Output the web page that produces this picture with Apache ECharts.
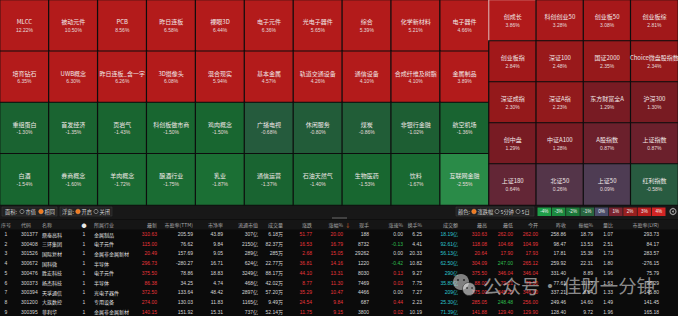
<!DOCTYPE html>
<html><head><meta charset="utf-8">
<script src="https://cdn.jsdelivr.net/npm/echarts/dist/echarts.min.js"></script>
<style>html,body{margin:0;padding:0;background:#0b0b0b;}#c{width:678px;height:316px;}</style>
</head><body><div id="c"></div><script>
// ---- tile data ----
const leftNames = ['MLCC','被动元件','PCB','昨日连板','裸眼3D','电子元件','光电子器件','综合','化学新材料','电子器件',
 '培育钻石','UWB概念','昨日连板_含一字','3D摄像头','混合现实','基本金属','轨道交通设备','通信设备','合成纤维及树脂','金属制品',
 '重组蛋白','首发经济','页岩气','科创板做市商','鸡肉概念','广播电视','休闲服务','煤炭','非银行金融','航空机场',
 '白酒','券商概念','羊肉概念','酿酒行业','乳业','通信运营','石油天然气','生物医药','饮料','互联网金融'];
const leftValues = [12.22,10.50,8.56,6.58,6.44,6.36,5.65,5.39,5.21,4.66,
 6.35,6.30,6.26,6.08,5.94,4.57,4.26,4.10,4.10,3.89,
 -1.30,-1.35,-1.43,-1.50,-1.50,-0.68,-0.80,-0.86,-1.02,-1.36,
 -1.54,-1.60,-1.72,-1.75,-1.87,-1.37,-1.40,-1.53,-1.67,-2.55];
const rightNames = ['创成长','科创创业50','创业板50','创业板综','创业板指','深证100','国证2000','Choice微盘股指数',
 '深证成指','深证A指','东方财富全A','沪深300','创中盘','中证A100','A股指数','上证指数','上证180','北证50','上证50','红利指数'];
const rightValues = [3.86,3.28,3.08,2.81,2.84,2.48,2.35,2.34,2.30,2.23,1.29,1.30,1.29,1.28,0.87,0.87,0.64,0.26,0.09,-0.58];
const legendTicks = ['-4%','-3%','-2%','-1%','0%','1%','2%','3%','4%'];

// ---- table data ----
const headers = ['序号','代码','名称','●','所属行业','最新','市盈率(TTM)','市净率','流通市值','成交量','涨跌','涨幅%','现手','涨速%','换手%','成交额','最高','最低','今开','昨收','振幅%','量比','市盈率(LYR)'];
const seqNo = [1,2,3,4,5,6,7,8,9];
const codes = ['301377','300408','301526','300672','300476','300373','300394','301200','300395'];
const stockNames = ['鼎泰高科','三环集团','国际复材','国科微','胜宏科技','扬杰科技','天孚通信','大族数控','菲利华'];
const flags = [1,1,1,1,1,1,1,1,1];
const industries = ['金属制品','电子元件','金属非金属新材','半导体','电子元件','半导体','光电子器件','专用设备','金属非金属新材'];
const latest = [310.63,115.00,20.49,296.73,375.50,86.38,372.50,274.00,140.15];
const peTTM = ['205.59','76.62','157.69','-280.27','78.86','34.25','133.64','130.03','151.92'];
const pb = ['43.89','9.84','9.05','16.71','18.83','4.74','48.42','11.83','15.31'];
const floatCap = ['307亿','2150亿','289亿','624亿','3249亿','468亿','2897亿','1165亿','737亿'];
const volume = ['6.18万','82.37万','285万','22.77万','88.17万','42.02万','57.20万','9.49万','52.14万'];
const change = [51.77,16.53,2.68,36.81,44.10,8.77,35.29,24.54,11.75];
const pctChange = [20.00,16.79,15.05,14.16,13.31,11.30,10.47,9.84,9.15];
const lastVol = ['188','8732','29262','1220','8030','7469','4466','687','3800'];
const speed = [0.00,-0.13,0.00,-0.42,0.13,0.03,0.00,0.44,0.02];
const turnover = ['6.25','4.41','20.33','10.82','9.27','7.75','7.27','2.23','10.19'];
const amount = ['18.19亿','92.61亿','56.13亿','62.50亿','290亿','35.80亿','209亿','25.30亿','71.39亿'];
const high = [310.63,118.08,20.64,304.09,375.50,88.00,375.00,285.05,141.88];
const low = [262.00,104.68,17.90,247.00,346.04,79.21,345.20,248.48,129.40];
const openP = [262.00,104.99,17.93,265.12,346.04,79.50,346.00,256.00,129.90];
const prevClose = [258.86,98.47,17.81,259.92,331.40,77.61,337.21,249.46,128.40];
const amplitude = [18.79,13.53,15.38,22.31,8.89,11.33,8.84,14.60,9.72];
const volRatio = [1.07,2.51,1.73,1.80,1.96,1.63,1.33,1.49,1.96];
const peLYR = ['293.73','84.17','283.57','-276.15','75.79','98.29','145.80','141.45','165.18'];

const CJK = '"Noto Sans CJK SC","Noto Sans",sans-serif';
const NUM = '"Liberation Sans","Noto Sans CJK SC",sans-serif';
const RED = '#e8353a', GREEN = '#2fbf4f', CYAN = '#2cc6cf', WHITE = '#d6d6d6', GRAY = '#a8a8a8';

const chart = echarts.init(document.getElementById('c'), null, {renderer:'svg', width:678, height:316});

const leftData = leftValues.map((v,i)=>({name:leftNames[i], value:[i%10, Math.floor(i/10), v]}));
const rightData = rightValues.map((v,i)=>{
  const d = {name:rightNames[i], value:[i%4, Math.floor(i/4), v]};
  if (i===0) d.itemStyle = {borderColor:'#e0a2a2', borderWidth:1.2};
  return d;
});
const idx = n => Array.from({length:n},(_,i)=>i);

const labelCfg = {
  show:true,
  formatter: p => '{n|' + p.data.name + '}\n{v|' + p.data.value[2].toFixed(2) + '%}',
  rich:{
    n:{fontSize:6, fontFamily:CJK, color:'#f1e8e8', lineHeight:8.5},
    v:{fontSize:5, fontFamily:NUM, color:'#e6dcdc', lineHeight:7.5}
  }
};

function T(x,y,text,fill,size,align,font){
  return {type:'text', silent:true, style:{x:x,y:y,text:String(text),fill:fill,fontSize:size,fontFamily:font||NUM,
    textAlign:align||'left',align:align||'left',textVerticalAlign:'middle',verticalAlign:'middle'}};
}
function R(x,y,w,h,fill,stroke){
  return {type:'rect', silent:true, shape:{x:x,y:y,width:w,height:h}, style:{fill:fill, stroke:stroke||null, lineWidth:0.6}};
}
function radio(x,y,on){
  return on ? {type:'circle', silent:true, shape:{cx:x,cy:y,r:2.3}, style:{fill:'#ef7a1f', stroke:'#f4a060', lineWidth:0.5}}
            : {type:'circle', silent:true, shape:{cx:x,cy:y,r:2.1}, style:{fill:'none', stroke:'#bdbdbd', lineWidth:0.6}};
}

const g = [];
// control bar
g.push(R(0,205,678,14,'#181818'));
g.push(R(2,207,55,9,'#222222','#3a3a3a'));
g.push(T(5,211.5,'面积:',WHITE,5.2,'left',CJK));
g.push(radio(22,211.5,false)); g.push(T(25.5,211.5,'市值',WHITE,5.2,'left',CJK));
g.push(radio(41,211.5,true)); g.push(T(44.5,211.5,'相同',WHITE,5.2,'left',CJK));
g.push(R(60,207,52,9,'#222222','#3a3a3a'));
g.push(T(62,211.5,'浮窗:',WHITE,5.2,'left',CJK));
g.push(radio(78,211.5,true)); g.push(T(81.5,211.5,'开启',WHITE,5.2,'left',CJK));
g.push(radio(96,211.5,false)); g.push(T(99.5,211.5,'关闭',WHITE,5.2,'left',CJK));
g.push(R(456,207,78,9,'#222222','#3a3a3a'));
g.push(T(458,211.5,'颜色:',WHITE,5.2,'left',CJK));
g.push(radio(474,211.5,true)); g.push(T(477.5,211.5,'涨跌幅',WHITE,5.2,'left',CJK));
g.push(radio(497,211.5,false)); g.push(T(500.5,211.5,'5分钟',WHITE,5.2,'left',CJK));
g.push(radio(518,211.5,false)); g.push(T(521.5,211.5,'5日',WHITE,5.2,'left',CJK));
const legendColors = ['#1e9e48','#1b8a3f','#1b7838','#286640','#4a4d6b','#7a2430','#982020','#b71e1e','#d22424'];
legendTicks.forEach((t,i)=>{
  const x = 537.5 + i*14.3;
  g.push(R(x,207.5,13.6,8.5,legendColors[i]));
  g.push(T(x+6.8,211.8,t,'#f0f0f0',4.6,'center'));
});
g.push({type:'circle', silent:true, shape:{cx:673,cy:211.5,r:3}, style:{fill:'none', stroke:'#9a9a9a', lineWidth:1.2}});
g.push({type:'circle', silent:true, shape:{cx:673,cy:211.5,r:1}, style:{fill:'#9a9a9a'}});
g.push(R(332,217.5,15,1,'#6a6a6a'));

// table header
g.push(R(0,219.5,678,10,'#151515'));
const colX = [6,21,42,84,94,157,193,223,258,283,312,343,369,403,422,458,487,513,538,566,593,613,659];
const colAlign = ['center','left','left','center','left','right','right','right','right','right','right','right','right','right','right','right','right','right','right','right','right','right','right'];
headers.forEach((h,i)=>{
  g.push(T(colX[i],224.8,h,i===3?'#e8e8e8':GRAY,5,colAlign[i],CJK));
});
g.push(T(345,224.8,'↓','#e8702a',5.5,'left',CJK));

// table rows
const rowY0 = 234, rowH = 9.7;
const f2 = v => v.toFixed(2);
const upDown = (v,base) => v>base ? RED : (v<base ? GREEN : WHITE);
seqNo.forEach((s,r)=>{
  const y = rowY0 + r*rowH;
  const pc = prevClose[r];
  const cells = [
    [s, WHITE],[codes[r], WHITE],[stockNames[r], '#e2e2e2'],[flags[r], WHITE],[industries[r], '#e2e2e2'],
    [f2(latest[r]), upDown(latest[r],pc)],[peTTM[r], WHITE],[pb[r], WHITE],[floatCap[r], WHITE],[volume[r], WHITE],
    [f2(change[r]), change[r]>0?RED:GREEN],[f2(pctChange[r]), pctChange[r]>0?RED:GREEN],[lastVol[r], WHITE],
    [f2(speed[r]), upDown(speed[r],0)],[turnover[r], WHITE],[amount[r], CYAN],
    [f2(high[r]), upDown(high[r],pc)],[f2(low[r]), upDown(low[r],pc)],[f2(openP[r]), upDown(openP[r],pc)],
    [f2(pc), WHITE],[f2(amplitude[r]), WHITE],[f2(volRatio[r]), WHITE],[peLYR[r], WHITE]
  ];
  cells.forEach((c,i)=>{
    const isCJK = (i===2||i===4);
    g.push(T(colX[i],y,c[0],c[1],5,colAlign[i],isCJK?CJK:NUM));
  });
});

// watermark
g.push({type:'circle', silent:true, shape:{cx:461,cy:282,r:8}, style:{fill:'rgba(225,225,225,0.55)'}});
g.push({type:'circle', silent:true, shape:{cx:469,cy:289,r:6.5}, style:{fill:'rgba(235,235,235,0.6)', stroke:'rgba(20,20,20,0.5)', lineWidth:1}});
g.push({type:'circle', silent:true, shape:{cx:458,cy:280,r:1.1}, style:{fill:'rgba(20,20,20,0.7)'}});
g.push({type:'circle', silent:true, shape:{cx:464,cy:280,r:1.1}, style:{fill:'rgba(20,20,20,0.7)'}});
g.push({type:'circle', silent:true, shape:{cx:467,cy:288,r:0.9}, style:{fill:'rgba(20,20,20,0.7)'}});
g.push({type:'circle', silent:true, shape:{cx:472,cy:288,r:0.9}, style:{fill:'rgba(20,20,20,0.7)'}});
g.push(T(483,285,'公众号','rgba(225,225,225,0.62)',19,'left',CJK));
g.push(T(550,285,'·','rgba(225,225,225,0.62)',19,'center',CJK));
g.push(T(563,285,'佳财一分钟','rgba(225,225,225,0.62)',18.4,'left',CJK));

chart.setOption({
  animation:false,
  backgroundColor:'#0b0b0b',
  textStyle:{fontFamily:CJK},
  grid:[{left:0,top:0,width:489,height:205},{left:489,top:0,width:189,height:205}],
  xAxis:[{type:'category',gridIndex:0,data:idx(10),show:false},{type:'category',gridIndex:1,data:idx(4),show:false}],
  yAxis:[{type:'category',gridIndex:0,data:idx(4),inverse:true,show:false},{type:'category',gridIndex:1,data:idx(5),inverse:true,show:false}],
  visualMap:{type:'continuous',show:false,min:-4,max:4,dimension:2,seriesIndex:[0,1],
    inRange:{color:['#2aa452','#2a9a4c','#2a9048','#2a8a48','#1c7236','#186630','#1d5e33','#2a5a42','#4a4058',
                    '#5e2a3c','#701c26','#7e1a20','#8c1a1c','#9a191b','#a5181a','#ad191b','#b31b1b']}},
  series:[
    {type:'heatmap',xAxisIndex:0,yAxisIndex:0,data:leftData,label:labelCfg,
      itemStyle:{borderColor:'#0d0d0d',borderWidth:1.2},emphasis:{disabled:true}},
    {type:'heatmap',xAxisIndex:1,yAxisIndex:1,data:rightData,label:labelCfg,
      itemStyle:{borderColor:'#0d0d0d',borderWidth:1.2},emphasis:{disabled:true}}
  ],
  graphic:{elements:g}
});
</script></body></html>
